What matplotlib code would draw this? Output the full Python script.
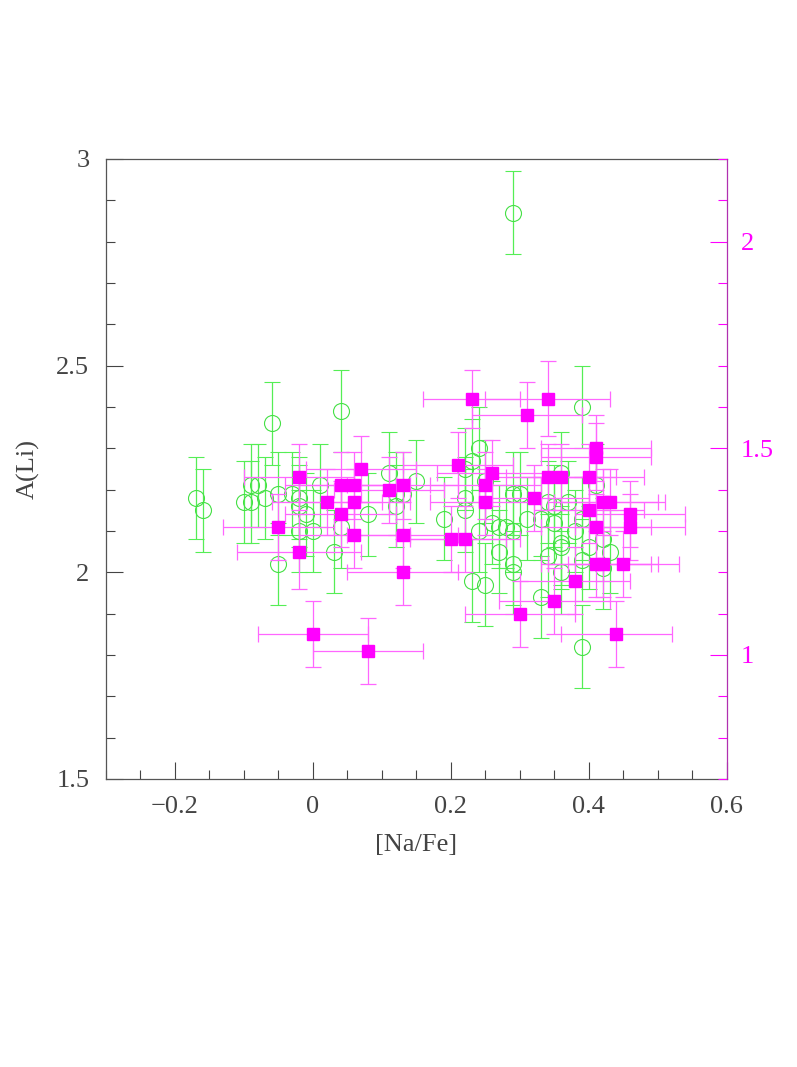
import matplotlib
matplotlib.use("Agg")
import matplotlib.pyplot as plt
from matplotlib.ticker import MultipleLocator, FuncFormatter

# green: open circles, A(Li) on the left axis
na_green = [-0.17, -0.16, -0.10, -0.09, -0.09, -0.08, -0.07, -0.06, -0.05, -0.05,
            -0.03, -0.02, -0.02, -0.02, -0.01, 0.00, 0.01, 0.03, 0.04, 0.04,
            0.08, 0.11, 0.12, 0.12, 0.13, 0.15, 0.19, 0.22, 0.22, 0.22,
            0.23, 0.23, 0.24, 0.24, 0.25, 0.25, 0.26, 0.27, 0.27, 0.28,
            0.29, 0.29, 0.29, 0.29, 0.29, 0.30, 0.31, 0.33, 0.33, 0.34,
            0.34, 0.35, 0.35, 0.36, 0.36, 0.36, 0.36, 0.37, 0.38, 0.39,
            0.39, 0.39, 0.39, 0.40, 0.41, 0.42, 0.42, 0.43]
li_green = [2.18, 2.15, 2.17, 2.21, 2.17, 2.21, 2.18, 2.36, 2.19, 2.02,
            2.19, 2.18, 2.16, 2.10, 2.14, 2.10, 2.21, 2.05, 2.39, 2.11,
            2.14, 2.24, 2.19, 2.16, 2.19, 2.22, 2.13, 2.18, 2.15, 2.25,
            1.98, 2.27, 2.30, 2.10, 2.22, 1.97, 2.12, 2.05, 2.11, 2.11,
            2.19, 2.02, 2.00, 2.87, 2.10, 2.19, 2.13, 2.13, 1.94, 2.17,
            2.04, 2.16, 2.12, 2.24, 2.07, 2.06, 2.00, 2.17, 2.10, 2.13,
            2.40, 2.03, 1.82, 2.06, 2.21, 2.01, 2.08, 2.05]
li_green_err = 0.10

# magenta: filled squares, values on the right axis
na_mag = [-0.05, -0.02, -0.02, 0.00, 0.02, 0.04, 0.04, 0.06, 0.06, 0.06,
          0.07, 0.08, 0.11, 0.13, 0.13, 0.13, 0.20, 0.21, 0.22, 0.23,
          0.25, 0.25, 0.26, 0.30, 0.31, 0.32, 0.34, 0.34, 0.35, 0.36,
          0.38, 0.40, 0.40, 0.41, 0.41, 0.41, 0.41, 0.42, 0.42, 0.43,
          0.44, 0.45, 0.46, 0.46]
li_mag = [1.31, 1.43, 1.25, 1.05, 1.37, 1.41, 1.34, 1.41, 1.37, 1.29,
          1.45, 1.01, 1.40, 1.41, 1.29, 1.20, 1.28, 1.46, 1.28, 1.62,
          1.41, 1.37, 1.44, 1.10, 1.58, 1.38, 1.62, 1.43, 1.13, 1.43,
          1.18, 1.43, 1.35, 1.50, 1.48, 1.31, 1.22, 1.22, 1.37, 1.37,
          1.05, 1.22, 1.34, 1.31]
na_mag_err = [0.08, 0.08, 0.09, 0.08, 0.08, 0.08, 0.08, 0.08, 0.08, 0.08,
              0.08, 0.08, 0.08, 0.08, 0.08, 0.08, 0.08, 0.08, 0.08, 0.07,
              0.08, 0.08, 0.08, 0.08, 0.08, 0.08, 0.09, 0.08, 0.08, 0.08,
              0.08, 0.08, 0.08, 0.08, 0.08, 0.08, 0.08, 0.08, 0.08, 0.08,
              0.08, 0.08, 0.08, 0.08]
li_mag_err = [0.08, 0.08, 0.09, 0.08, 0.08, 0.08, 0.08, 0.08, 0.08, 0.08,
              0.08, 0.08, 0.08, 0.08, 0.08, 0.08, 0.08, 0.08, 0.08, 0.07,
              0.08, 0.08, 0.08, 0.08, 0.08, 0.08, 0.09, 0.08, 0.08, 0.08,
              0.08, 0.08, 0.08, 0.08, 0.08, 0.08, 0.08, 0.08, 0.08, 0.08,
              0.08, 0.08, 0.08, 0.08]

plt.rcParams['font.family'] = ['Liberation Serif', 'DejaVu Serif']


def fmt(v, pos):
    s = f'{v:.1f}'.rstrip('0').rstrip('.')
    if s in ('-0', '0'):
        return '0'
    return s.replace('-', '\u2212')


fig = plt.figure(figsize=(7.97, 10.67), dpi=100)
ax = fig.add_axes([0.133, 0.270, 0.779, 0.581])

ax.errorbar(na_green, li_green, yerr=li_green_err, fmt='o', ms=11.5,
            mfc='none', mec='#44e044', mew=0.8, ecolor='#55ee55',
            elinewidth=0.9, capsize=5.5, capthick=0.9, zorder=2)

ax.set_xlim(-0.3, 0.6)
ax.set_ylim(1.5, 3.0)
ax.xaxis.set_major_locator(MultipleLocator(0.2))
ax.xaxis.set_minor_locator(MultipleLocator(0.05))
ax.yaxis.set_major_locator(MultipleLocator(0.5))
ax.yaxis.set_minor_locator(MultipleLocator(0.1))
ax.xaxis.set_major_formatter(FuncFormatter(fmt))
ax.yaxis.set_major_formatter(FuncFormatter(fmt))
ax.tick_params(which='both', direction='in', top=False, right=False,
               colors='#444444', labelsize=19, width=0.8)
ax.tick_params(which='major', length=12, pad=12)
ax.tick_params(which='minor', length=6.5)
for s in ['left', 'bottom', 'top']:
    ax.spines[s].set_color('#555555')
    ax.spines[s].set_linewidth(0.9)
ax.spines['right'].set_visible(False)
ax.set_xlabel('[Na/Fe]', fontsize=19, color='#444444', labelpad=12)
ax.set_ylabel('A(Li)', fontsize=19, color='#444444', labelpad=12)

ax2 = ax.twinx()
ax2.errorbar(na_mag, li_mag, xerr=na_mag_err, yerr=li_mag_err, fmt='s',
             ms=8, mfc='#ff00ff', mec='#ff00ff', ecolor='#ff66ff',
             elinewidth=0.9, capsize=5.5, capthick=0.9, zorder=3)
ax2.set_ylim(0.7, 2.2)
ax2.yaxis.set_major_locator(MultipleLocator(0.5))
ax2.yaxis.set_minor_locator(MultipleLocator(0.1))
ax2.yaxis.set_major_formatter(FuncFormatter(fmt))
ax2.tick_params(which='both', direction='in', colors='#ff00ff',
                labelsize=19, width=0.8)
ax2.tick_params(which='major', length=12, pad=10)
ax2.tick_params(which='minor', length=6.5)
ax2.set_xlim(-0.3, 0.6)
for s in ['left', 'bottom', 'top']:
    ax2.spines[s].set_visible(False)
ax2.spines['right'].set_color('#b030b0')
ax2.spines['right'].set_linewidth(0.9)

fig.savefig('out.png', dpi=100)
